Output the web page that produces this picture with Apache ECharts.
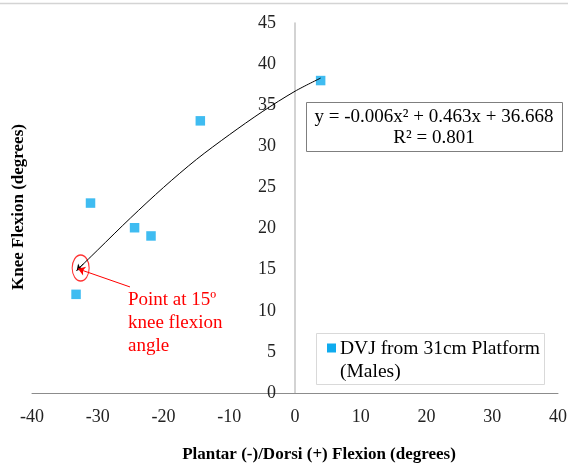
<!DOCTYPE html>
<html><head><meta charset="utf-8">
<script src="https://cdn.jsdelivr.net/npm/echarts@6/dist/echarts.min.js"></script>
<style>html,body{margin:0;padding:0;background:#fff}#c{width:568px;height:468px}</style>
</head><body><div id="c"></div>
<script>
const seriesName = 'DVJ from 31cm Platform';
const seriesNameLine2 = '(Males)';
const plantarX = [-33.3, -31.1, -24.4, -21.9, -14.4, 3.9];
const kneeY = [12.0, 23.1, 20.1, 19.1, 33.1, 38.0];
const trendX = [-33.2, -30, -25, -20, -15, -10, -5, 0, 3.9];
const trendY = [14.9, 17.4, 21.3, 25.0, 28.4, 31.4, 34.2, 36.7, 38.3];
const equationText = 'y = -0.006x² + 0.463x + 36.668';
const r2Text = 'R² = 0.801';
const noteLines = ['Point at 15º', 'knee flexion', 'angle'];
const notePoint = [-32.6, 15.2];
const noteArrowFrom = [-25.1, 12.9];
const noteArrowTo = [-33.0, 15.1];
const noteTextAnchor = [-25.4, 12.6];
const xTitle = 'Plantar (-)/Dorsi (+) Flexion (degrees)';
const yTitle = 'Knee Flexion (degrees)';
const xTicks = {min: -40, max: 40, interval: 10};
const yTicks = {min: 0, max: 45, interval: 5};

const serif = 'Liberation Serif';
const gridLeft = 32, gridRight = 10;
const chart = echarts.init(document.getElementById('c'), null, {renderer: 'canvas'});
const plotW = 568 - gridLeft - gridRight;
const zeroOffset = -plotW * (0 - xTicks.min) / (xTicks.max - xTicks.min);
const option = {
  backgroundColor: '#fff',
  animation: false,
  grid: {left: gridLeft, right: gridRight, top: 23, bottom: 75, containLabel: false, outerBoundsMode: 'none'},
  xAxis: {
    type: 'value', min: xTicks.min, max: xTicks.max, interval: xTicks.interval,
    axisLine: {show: true, onZero: false, lineStyle: {color: '#8c8c8c', width: 1}},
    axisTick: {show: false},
    splitLine: {show: false},
    axisLabel: {fontFamily: serif, fontSize: 18, color: '#222', margin: 15}
  },
  yAxis: {
    type: 'value', min: yTicks.min, max: yTicks.max, interval: yTicks.interval,
    offset: zeroOffset,
    axisLine: {show: true, onZero: false, lineStyle: {color: '#c4c4c4', width: 1.5}},
    axisTick: {show: false},
    splitLine: {show: false},
    axisLabel: {fontFamily: serif, fontSize: 18, color: '#222', margin: 19}
  },
  series: [
    {
      name: 'trend', type: 'line', smooth: 0.3, showSymbol: false, silent: true,
      data: trendX.map((x, i) => [x, trendY[i]]),
      lineStyle: {color: '#000', width: 1},
      markLine: {
        silent: true, symbol: ['none', 'arrow'], symbolSize: 6,
        label: {show: false},
        lineStyle: {color: '#000', width: 1, type: 'solid'},
        data: [[{coord: [-32.2, 15.7]}, {coord: [trendX[0], trendY[0]]}]]
      }
    },
    {
      name: seriesName, type: 'scatter', symbol: 'rect', symbolSize: 9.5,
      data: plantarX.map((x, i) => [x, kneeY[i]]),
      itemStyle: {color: '#0fabee'}
    },
    {
      name: 'note', type: 'scatter', symbol: 'circle', symbolSize: [17, 26], silent: true,
      data: [notePoint],
      itemStyle: {color: 'rgba(0,0,0,0)', borderColor: '#ff0000', borderWidth: 1.3},
      markLine: {
        silent: true, symbol: ['none', 'arrow'], symbolSize: 7,
        label: {show: false},
        lineStyle: {color: '#ff0000', width: 1, type: 'solid'},
        data: [[{coord: noteArrowFrom}, {coord: noteArrowTo}]]
      }
    }
  ]
};
chart.setOption(option);

const anchor = chart.convertToPixel({gridIndex: 0}, noteTextAnchor);
chart.setOption({
  graphic: [
    {type: 'line', shape: {x1: 0, y1: 3.5, x2: 568, y2: 3.5}, style: {stroke: '#d4d4d4', lineWidth: 1.5}, silent: true},
    {type: 'text', x: 319, y: 455, style: {text: xTitle, fontFamily: serif, fontSize: 17, fontWeight: 'bold', fill: '#000', align: 'center', verticalAlign: 'middle'}},
    {type: 'text', x: 19, y: 207, rotation: Math.PI / 2, style: {text: yTitle, fontFamily: serif, fontSize: 17, fontWeight: 'bold', fill: '#000', align: 'center', verticalAlign: 'middle'}},
    {type: 'group', children: noteLines.map((t, i) => ({
      type: 'text', x: anchor[0], y: anchor[1] + 11 + i * 23,
      style: {text: t, fontFamily: serif, fontSize: 19, fill: '#ff0000', align: 'left', verticalAlign: 'middle'}
    }))},
    {type: 'rect', shape: {x: 306.5, y: 102.5, width: 256, height: 49}, style: {fill: '#fff', stroke: '#7f7f7f', lineWidth: 1}, z: 10},
    {type: 'text', x: 434, y: 117, z: 11, style: {text: equationText, fontFamily: serif, fontSize: 19, fill: '#000', align: 'center', verticalAlign: 'middle'}},
    {type: 'text', x: 434, y: 138.5, z: 11, style: {text: r2Text, fontFamily: serif, fontSize: 19, fill: '#000', align: 'center', verticalAlign: 'middle'}},
    {type: 'rect', shape: {x: 316.5, y: 333.5, width: 228, height: 51}, style: {fill: '#fff', stroke: '#d9d9d9', lineWidth: 1}, z: 10},
    {type: 'rect', shape: {x: 327, y: 343.5, width: 9, height: 9}, style: {fill: '#0fabee'}, z: 11},
    {type: 'text', x: 340, y: 348.5, z: 11, style: {text: seriesName, fontFamily: serif, fontSize: 19.5, fill: '#000', align: 'left', verticalAlign: 'middle'}},
    {type: 'text', x: 340, y: 372, z: 11, style: {text: seriesNameLine2, fontFamily: serif, fontSize: 19.5, fill: '#000', align: 'left', verticalAlign: 'middle'}}
  ]
});
</script></body></html>
